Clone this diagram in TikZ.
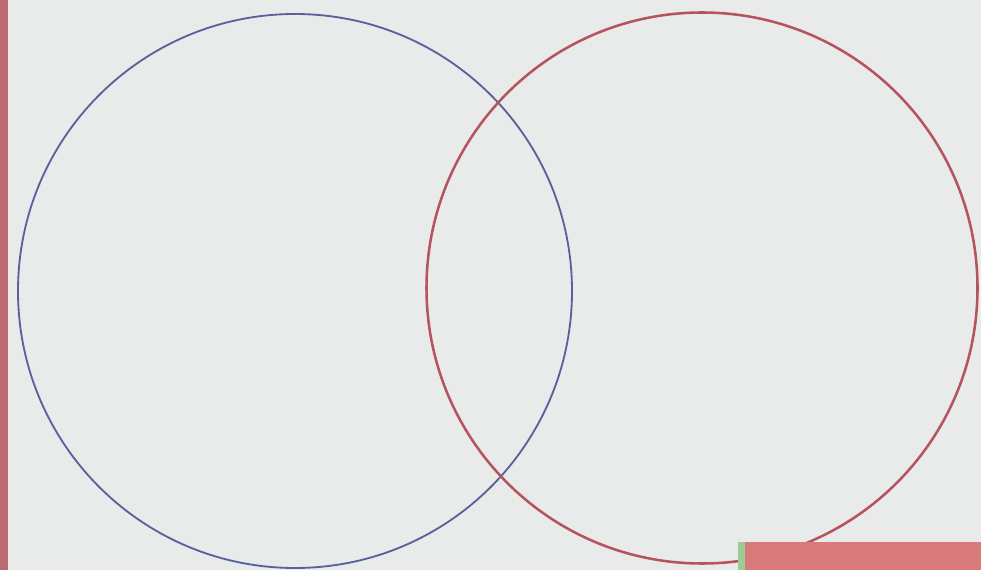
\documentclass[tikz,border=0pt]{standalone}
\usepackage{tikz}
\usetikzlibrary{positioning}
\definecolor{PaperGray}{HTML}{E8EBEA}
\definecolor{EdgeRed}{HTML}{B96B70}
\definecolor{PatchRed}{HTML}{D8797A}
\definecolor{PatchGreen}{HTML}{9DCB90}
\definecolor{InkBlue}{HTML}{5B5F9C}
\definecolor{InkRed}{HTML}{B5545F}

\begin{document}
\begin{tikzpicture}[x=0.025cm,y=-0.025cm,
    setcircle/.style={circle,draw,inner sep=0pt,minimum size=0.025cm*#1}]
  % paper
  \fill[PaperGray] (0,0) rectangle (981,570);
  \useasboundingbox (0,0) rectangle (981,570);
  % the two sets
  \node[setcircle=554,InkBlue,line width=1.3pt] (setA) at (295,291) {};
  \node[setcircle=551,InkRed,line width=1.8pt] (setB) at (702,288) {};
  % the bits around the paper
  \fill[EdgeRed] (0,0) rectangle (8,570);
  \fill[PatchRed] (738,542) rectangle (981,570);
  \fill[PatchGreen] (738,542) rectangle (745,570);
\end{tikzpicture}
\end{document}
